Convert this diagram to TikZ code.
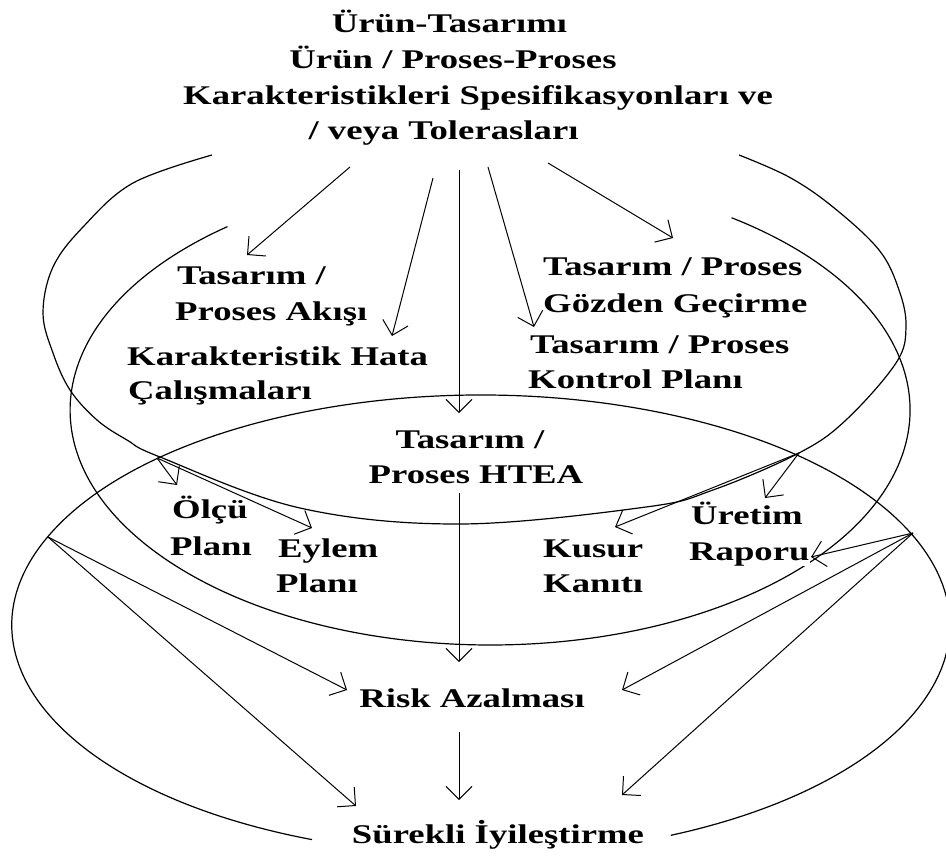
\documentclass[tikz,border=0pt]{standalone}
\usepackage{fontspec}
\newfontfamily\dfont{Liberation Serif}[FakeStretch=1.36]
\usetikzlibrary{arrows.meta}
\begin{document}
\begin{tikzpicture}[x=1pt,y=-1pt,
  lbl/.style={inner sep=0pt, font=\dfont\bfseries\fontsize{27}{30}\selectfont},
  curve/.style={line width=1.2pt},
  arr/.style={line width=1pt, -{Straight Barb[length=13pt,width=26pt,line width=1pt]}}]
\useasboundingbox[fill=white] (0,0) rectangle (946,855);

% ellipses
\draw[curve] plot[smooth, tension=0.6] coordinates {(212,155) (133,183) (83,227) (53,267) (43,313) (53,353) (70,390) (97,420) (127,440) (160,457) (300,508) (460,524) (646,507) (713,490) (799,453) (846,420) (896,363) (906,327) (899,290) (879,250) (833,207) (789,177) (739,155)};
\draw[curve] (227.5,226.6) arc[start angle=231.3, end angle=-54.9, x radius=420, y radius=235];
\draw[curve] (312,839.6) arc[start angle=111.1, end angle=426.1, x radius=469, y radius=230];

% named points
\coordinate (a1s) at (350,167);  \coordinate (a1e) at (247,255);
\coordinate (a2s) at (433,178);  \coordinate (a2e) at (392,336);
\coordinate (a3s) at (459,170);  \coordinate (a3e) at (459,413);
\coordinate (a4s) at (488,167);  \coordinate (a4e) at (534,327);
\coordinate (a5s) at (548,163);  \coordinate (a5e) at (673,238);
\coordinate (a6s) at (459,493);  \coordinate (a6e) at (459,662);
\coordinate (a7s) at (459,732);  \coordinate (a7e) at (459,800);
\coordinate (pL) at (157,458);   \coordinate (pR) at (799,453);
\coordinate (qL) at (48,537);    \coordinate (qR) at (913,533);
\coordinate (e8) at (177,485);   \coordinate (e9) at (312,528);
\coordinate (e10) at (765,498);  \coordinate (e11) at (615,527);
\coordinate (e12) at (811,557);
\coordinate (e13) at (347,690);  \coordinate (e14) at (356,806);
\coordinate (e15) at (622,690);  \coordinate (e16) at (622,795);

% arrows
\draw[arr] (a1s) -- (a1e);
\draw[arr] (a2s) -- (a2e);
\draw[arr] (a3s) -- (a3e);
\draw[arr] (a4s) -- (a4e);
\draw[arr] (a5s) -- (a5e);
\draw[arr] (a6s) -- (a6e);
\draw[arr] (a7s) -- (a7e);
\draw[arr] (pL) -- (e8);
\draw[arr] (pL) -- (e9);
\draw[arr] (pR) -- (e10);
\draw[arr] (pR) -- (e11);
\draw[arr] (qR) -- (e12);
\draw[arr] (qL) -- (e13);
\draw[arr] (qL) -- (e14);
\draw[arr] (qR) -- (e15);
\draw[arr] (qR) -- (e16);

% texts
\node[lbl, anchor=base] (t1) at (449.5,32) {Ürün-Tasarımı};
\node[lbl, anchor=base] (t2) at (453,68) {Ürün / Proses-Proses};
\node[lbl, anchor=base] (t3) at (478,104) {Karakteristikleri Spesifikasyonları ve};
\node[lbl, anchor=base] (t4) at (443.5,139) {/ veya Tolerasları};

\node[lbl, anchor=base west] (pa1) at (177,284) {Tasarım /};
\node[lbl, anchor=base west] (pa2) at (175,320) {Proses Akışı};
\node[lbl, anchor=base west] (kh1) at (127,365) {Karakteristik Hata};
\node[lbl, anchor=base west] (kh2) at (128,399) {Çalışmaları};
\node[lbl, anchor=base west] (gg1) at (543,275) {Tasarım / Proses};
\node[lbl, anchor=base west] (gg2) at (543,312) {Gözden Geçirme};
\node[lbl, anchor=base west] (kp1) at (530,353) {Tasarım / Proses};
\node[lbl, anchor=base west] (kp2) at (528,388) {Kontrol Planı};
\node[lbl, anchor=base] (ht1) at (470,448) {Tasarım /};
\node[lbl, anchor=base] (ht2) at (476,483) {Proses HTEA};
\node[lbl, anchor=base west] (op1) at (172,518) {Ölçü};
\node[lbl, anchor=base west] (op2) at (170,555) {Planı};
\node[lbl, anchor=base west] (ep1) at (278,557) {Eylem};
\node[lbl, anchor=base west] (ep2) at (276,592) {Planı};
\node[lbl, anchor=base west] (kk1) at (543,557) {Kusur};
\node[lbl, anchor=base west] (kk2) at (543,592) {Kanıtı};
\node[lbl, anchor=base west] (ur1) at (691,524) {Üretim};
\node[lbl, anchor=base west, fill=white] (ur2) at (689,560) {Raporu};
\node[lbl, anchor=base] (ra) at (472,707) {Risk Azalması};
\node[lbl, anchor=base] (si) at (498,843) {Sürekli İyileştirme};
\end{tikzpicture}
\end{document}
